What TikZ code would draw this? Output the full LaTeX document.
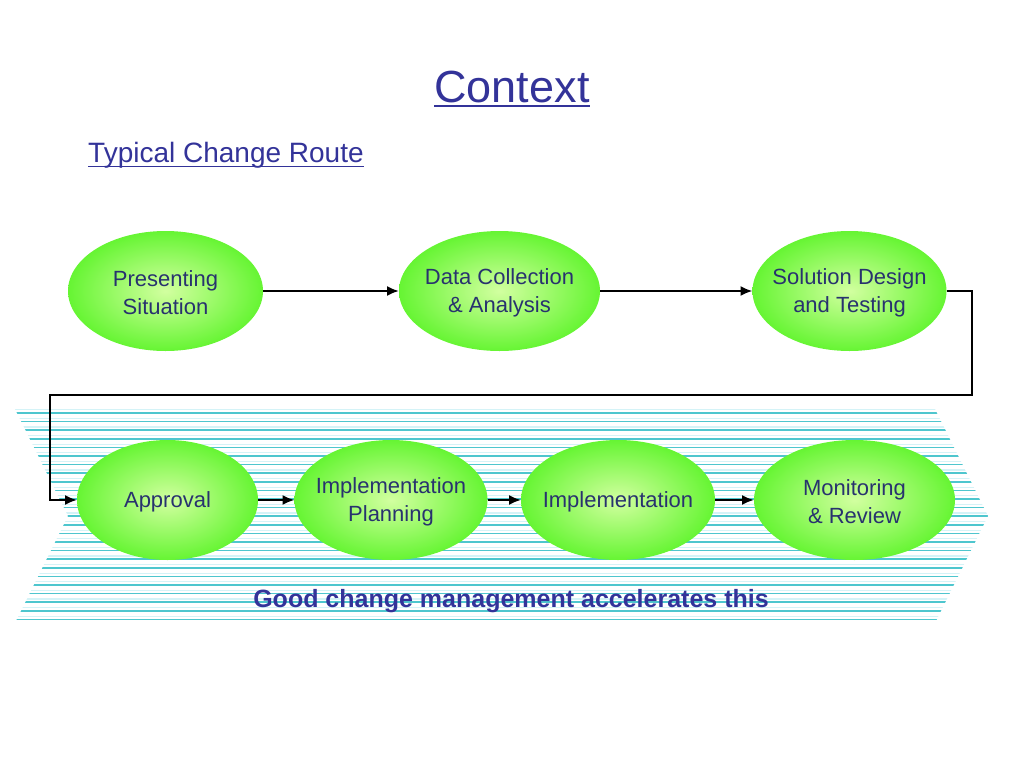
\documentclass[tikz,border=0pt]{standalone}
\usepackage{fontspec}
\setmainfont{Liberation Sans}
\usetikzlibrary{shapes.geometric,arrows.meta}
\definecolor{titleblue}{RGB}{51,51,153}
\definecolor{nodetext}{RGB}{40,50,110}
\definecolor{teal1}{RGB}{78,198,206}
\definecolor{teal2}{RGB}{212,243,247}
\definecolor{gout}{RGB}{102,245,51}
\definecolor{gin}{RGB}{210,255,160}
\newcommand{\myul}[3]{{\setbox0\hbox{#3}\rlap{\raisebox{-#1}{\rule{\wd0}{#2}}}\box0}}
\tikzset{
  stage/.style={ellipse, draw=none, inner color=gin, outer color=gout,
    minimum height=120pt, inner sep=0pt, outer sep=0pt},
  stagetext/.style={text=nodetext, align=center, yshift=-2pt,
    font=\fontsize{22}{28}\selectfont},
  arr/.style={line width=2pt, -{Latex[length=12pt,width=10pt]}},
}
\begin{document}
\begin{tikzpicture}[x=1pt,y=-1pt]
\useasboundingbox (0,0) rectangle (1024,768);
% striped chevron band
\begin{scope}
\clip (15,409) -- (935,409) -- (988,516) -- (935,623) -- (15,623) -- (68,516) -- cycle;
\foreach \i in {0,...,24} {
  \pgfmathsetmacro{\yy}{413+8.6*\i}
  \draw[teal2, line width=1.2pt] (0,\yy-3.3) -- (1024,\yy-3.3);
  \draw[teal1, line width=1.5pt] (0,\yy) -- (1024,\yy);
}
\end{scope}
% titles
\node[anchor=base, text=titleblue, font=\fontsize{45}{50}\selectfont] (title) at (512,102) {\myul{5pt}{2.5pt}{Context}};
\node[anchor=base west, text=titleblue, font=\fontsize{28}{32}\selectfont, inner sep=0pt] (sub) at (88,162) {\myul{5pt}{1.3pt}{Typical Change Route}};
% stages
\node[stage, minimum width=195pt, label={[stagetext]center:Presenting\\Situation}] (pres) at (165.5,291) {};
\node[stage, minimum width=201pt, label={[stagetext]center:Data Collection\\\& Analysis}] (data) at (499.5,291) {};
\node[stage, minimum width=194pt, label={[stagetext]center:Solution Design\\and Testing}] (sol) at (849.5,291) {};
\node[stage, minimum width=181pt, label={[stagetext]center:Approval}] (app) at (167.5,500) {};
\node[stage, minimum width=193pt, label={[stagetext]center:Implementation\\Planning}] (ipl) at (391,500) {};
\node[stage, minimum width=194pt, label={[stagetext]center:Implementation}] (imp) at (618,500) {};
\node[stage, minimum width=201pt, label={[stagetext]center:Monitoring\\\& Review}] (mon) at (854.5,500) {};
% connectors
\coordinate (r1) at (972,395);
\coordinate (l1) at (50,395);
\draw[arr] (pres.east) -- (data.west);
\draw[arr] (data.east) -- (sol.west);
\draw[arr] (sol.east) -| (r1) -- (l1) |- (app.west);
\draw[arr] (app.east) -- (ipl.west);
\draw[arr] (ipl.east) -- (imp.west);
\draw[arr] (imp.east) -- (mon.west);
% footer
\node[text=titleblue, font=\bfseries\fontsize{25}{30}\selectfont] (good) at (511,601) {Good change management accelerates this};
\end{tikzpicture}
\end{document}
